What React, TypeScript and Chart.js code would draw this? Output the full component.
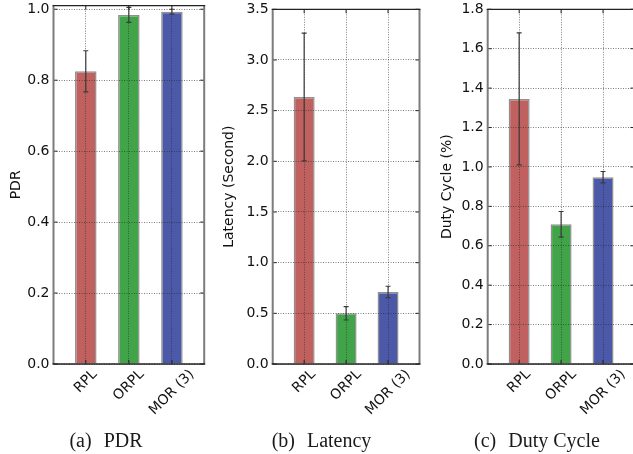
import React, { useEffect, useRef } from 'react';
import { Chart, registerables } from 'chart.js';

Chart.register(...registerables);

// ---- data ----
const categories = ['RPL', 'ORPL', 'MOR (3)'];
const barColors = ['#C06160', '#41A449', '#4B59A8'];

const pdrValues = [0.825, 0.984, 0.993];
const pdrErrors = [0.058, 0.021, 0.007];
const pdrTicks = [0, 0.2, 0.4, 0.6, 0.8, 1.0];

const latencyValues = [2.635, 0.5, 0.711];
const latencyErrors = [0.63, 0.066, 0.056];
const latencyTicks = [0, 0.5, 1.0, 1.5, 2.0, 2.5, 3.0, 3.5];

const dutyValues = [1.345, 0.709, 0.948];
const dutyErrors = [0.335, 0.065, 0.029];
const dutyTicks = [0, 0.2, 0.4, 0.6, 0.8, 1.0, 1.2, 1.4, 1.6, 1.8];

const captionTags = ['(a)', '(b)', '(c)'];
const captionNames = ['PDR', 'Latency', 'Duty Cycle'];
const yTitles = ['PDR', 'Latency (Second)', 'Duty Cycle (%)'];

// ---- layout (positions / sizes only) ----
type Panel = {
  left: number; width: number; padLeft: number; yWidth: number; padRight: number; padTop: number;
  yMax: number; values: number[]; errors: number[]; ticks: number[]; captionCenter: number; idx: number;
};

const panels: Panel[] = [
  { idx: 0, left: 0, width: 211, padLeft: 7.6, yWidth: 45.9, padRight: 6.8, padTop: 5.7, yMax: 1.01,
    values: pdrValues, errors: pdrErrors, ticks: pdrTicks, captionCenter: 106 },
  { idx: 1, left: 211, width: 211, padLeft: 10.1, yWidth: 51.6, padRight: 2.5, padTop: 9.3, yMax: 3.5,
    values: latencyValues, errors: latencyErrors, ticks: latencyTicks, captionCenter: 110.5 },
  { idx: 2, left: 422, width: 213, padLeft: 17.1, yWidth: 48.6, padRight: 0.5, padTop: 9.3, yMax: 1.8,
    values: dutyValues, errors: dutyErrors, ticks: dutyTicks, captionCenter: 115 },
];

const TICK_FONT = '"DejaVu Sans", sans-serif';
const GRID_COLOR = 'rgba(40,40,40,0.6)';

function makePlugin(p: Panel) {
  return {
    id: 'decor' + p.idx,
    afterDraw(chart: any) {
      const { ctx, chartArea: a, scales } = chart;
      const xs = scales.x;
      const ys = scales.y;
      ctx.save();

      // error bars
      ctx.save();
      ctx.beginPath();
      ctx.rect(a.left, a.top - 1, a.right - a.left, a.bottom - a.top + 1);
      ctx.clip();
      ctx.strokeStyle = '#3a3a3a';
      ctx.lineWidth = 1.2;
      p.values.forEach((v, i) => {
        const x = xs.getPixelForValue(i);
        const y1 = ys.getPixelForValue(v - p.errors[i]);
        const y2 = ys.getPixelForValue(v + p.errors[i]);
        ctx.beginPath();
        ctx.moveTo(x, y1);
        ctx.lineTo(x, y2);
        ctx.moveTo(x - 2.5, y1);
        ctx.lineTo(x + 2.5, y1);
        ctx.moveTo(x - 2.5, y2);
        ctx.lineTo(x + 2.5, y2);
        ctx.stroke();
      });
      ctx.restore();

      // inward tick marks
      ctx.strokeStyle = '#222';
      ctx.lineWidth = 1;
      ctx.beginPath();
      p.ticks.forEach((t) => {
        const y = ys.getPixelForValue(t);
        ctx.moveTo(a.left, y);
        ctx.lineTo(a.left + 4, y);
        ctx.moveTo(a.right, y);
        ctx.lineTo(a.right - 4, y);
      });
      categories.forEach((_, i) => {
        const x = xs.getPixelForValue(i);
        ctx.moveTo(x, a.bottom);
        ctx.lineTo(x, a.bottom - 4);
        ctx.moveTo(x, a.top);
        ctx.lineTo(x, a.top + 4);
      });
      ctx.stroke();

      // frame
      ctx.strokeStyle = '#7c7c7c';
      ctx.lineWidth = 2;
      ctx.beginPath();
      ctx.moveTo(a.left, a.top);
      ctx.lineTo(a.left, a.bottom);
      ctx.moveTo(a.right, a.top);
      ctx.lineTo(a.right, a.bottom);
      ctx.stroke();
      ctx.strokeStyle = '#222';
      ctx.lineWidth = 1.3;
      ctx.beginPath();
      ctx.moveTo(a.left - 1, a.top);
      ctx.lineTo(a.right + 1, a.top);
      ctx.moveTo(a.left - 1, a.bottom);
      ctx.lineTo(a.right + 1, a.bottom);
      ctx.stroke();

      // rotated category labels, centered on the tick
      ctx.font = '14px ' + TICK_FONT;
      ctx.fillStyle = '#111';
      ctx.textAlign = 'center';
      ctx.textBaseline = 'middle';
      categories.forEach((c, i) => {
        const x = xs.getPixelForValue(i);
        const w = ctx.measureText(c).width;
        const cy = a.bottom + 2.5 + (w + 16.3) * 0.3536;
        ctx.save();
        ctx.translate(x, cy);
        ctx.rotate(-Math.PI / 4);
        ctx.fillText(c, 0, 0);
        ctx.restore();
      });

      // caption
      ctx.font = '20px "Liberation Serif", "Times New Roman", serif';
      ctx.fillStyle = '#1a1a1a';
      ctx.textAlign = 'left';
      ctx.textBaseline = 'alphabetic';
      const tag = captionTags[p.idx];
      const name = captionNames[p.idx];
      const gap = 12;
      const w1 = ctx.measureText(tag).width;
      const w2 = ctx.measureText(name).width;
      const start = p.captionCenter - (w1 + gap + w2) / 2;
      ctx.fillText(tag, start, 446.5);
      ctx.fillText(name, start + w1 + gap, 446.5);

      ctx.restore();
    },
  };
}

function PanelChart({ p }: { p: Panel }) {
  const ref = useRef<HTMLCanvasElement | null>(null);
  useEffect(() => {
    if (!ref.current) return;
    const chart = new Chart(ref.current, {
      type: 'bar',
      data: {
        datasets: [
          {
            data: p.values.map((v, i) => ({ x: i, y: v })),
            backgroundColor: barColors,
            borderColor: 'rgba(70,70,70,0.6)',
            borderWidth: 1.5,
            barPercentage: 0.5,
            categoryPercentage: 1,
          } as any,
        ],
      },
      options: {
        responsive: false,
        animation: false,
        events: [],
        layout: { padding: { left: p.padLeft, right: p.padRight, top: p.padTop, bottom: 0 } },
        plugins: { legend: { display: false }, tooltip: { enabled: false } },
        scales: {
          x: {
            type: 'linear',
            min: -0.75,
            max: 2.75,
            offset: false,
            afterBuildTicks: (s: any) => {
              s.ticks = categories.map((_, i) => ({ value: i }));
            },
            afterFit: (s: any) => {
              s.height = 90;
              s.paddingLeft = 0;
              s.paddingRight = 0;
            },
            ticks: { display: false },
            grid: { color: GRID_COLOR, lineWidth: 1, drawTicks: false, z: 1, offset: false },
            border: { display: false, dash: [1, 1.5] },
          },
          y: {
            type: 'linear',
            min: 0,
            max: p.yMax,
            afterBuildTicks: (s: any) => {
              s.ticks = p.ticks.map((v) => ({ value: v }));
            },
            afterFit: (s: any) => {
              s.width = p.yWidth;
              s.paddingTop = 0;
              s.paddingBottom = 0;
            },
            ticks: {
              padding: 4,
              color: '#111',
              font: { family: TICK_FONT, size: 14 },
              callback: (v: any) => Number(v).toFixed(1),
            },
            title: {
              display: true,
              text: yTitles[p.idx],
              color: '#111',
              font: { family: TICK_FONT, size: 14 },
              padding: 0,
            },
            grid: { color: GRID_COLOR, lineWidth: 1, drawTicks: false, z: 1 },
            border: { display: false, dash: [1, 1.5] },
          },
        },
      } as any,
      plugins: [makePlugin(p)],
    });
    return () => chart.destroy();
  }, [p]);
  return (
    <canvas
      ref={ref}
      width={p.width}
      height={454}
      style={{ position: 'absolute', left: p.left, top: 0, width: p.width, height: 454 }}
    />
  );
}

export default function App() {
  return (
    <div
      style={{
        position: 'fixed',
        left: 0,
        top: 0,
        width: 633,
        height: 454,
        overflow: 'hidden',
        background: '#fff',
      }}
    >
      {panels.map((p) => (
        <PanelChart key={p.idx} p={p} />
      ))}
    </div>
  );
}
